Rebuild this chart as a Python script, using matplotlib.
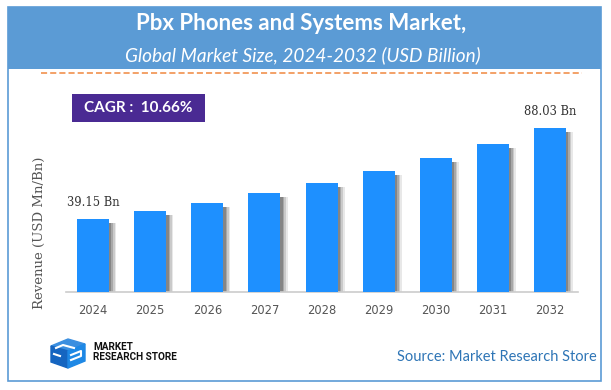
import matplotlib.pyplot as plt
from matplotlib.patches import Rectangle, Polygon
import numpy as np

years = ["2024", "2025", "2026", "2027", "2028", "2029", "2030", "2031", "2032"]
revenue = [39.15, 43.3, 47.9, 53.0, 58.7, 65.0, 71.9, 79.6, 88.03]
bar_labels = {0: "39.15 Bn", 8: "88.03 Bn"}
cagr_text = "CAGR :  10.66%"
title = "Pbx Phones and Systems Market,"
subtitle = "Global Market Size, 2024-2032 (USD Billion)"
source = "Source: Market Research Store"

W, H = 611, 390
fig = plt.figure(figsize=(W / 100, H / 100), dpi=100)


def fx(x):
    return x / W


def fy(y):
    return 1 - y / H


def frect(x0, y0, x1, y1, **kw):
    r = Rectangle((fx(x0), fy(y1)), fx(x1) - fx(x0), fy(y0) - fy(y1),
                  transform=fig.transFigure, zorder=-5, **kw)
    fig.patches.append(r)


# outer frame + header
frect(8, 7, 601, 381, facecolor="white", edgecolor="#5B9BD5", linewidth=1.2)
frect(8, 7, 601, 69, facecolor="#5B9BD5", edgecolor="none")
fig.lines.append(plt.Line2D([fx(41), fx(582)], [fy(72.5), fy(72.5)],
                            transform=fig.transFigure, color="#F0883E",
                            linewidth=1.1, linestyle=(0, (4, 2))))

fig.text(fx(301), fy(24), title, ha="center", va="center", color="white",
         fontsize=16, fontweight="bold", family="Lato")
fig.text(fx(303), fy(55), subtitle, ha="center", va="center", color="white",
         fontsize=13.7, style="italic", family="Lato")

# CAGR box
frect(72, 94, 205, 122, facecolor="#4A2A93", edgecolor="none")
fig.text(fx(138.5), fy(108), cagr_text, ha="center", va="center",
         color="white", fontsize=11, fontweight="bold", family="Lato")

# bar chart
ax = fig.add_axes([fx(65.7), fy(292), fx(578) - fx(65.7), (100 * 1.863) / H])
x = np.arange(len(years))
bw = 0.56
# soft shadow on the right
for i, a in enumerate([0.12, 0.18, 0.25, 0.35]):
    off = 0.04 + 0.028 * (3 - i)
    ax.bar(x + off, np.array(revenue) - 2.2, bottom=0, width=bw,
           color="#444444", alpha=a, zorder=1, linewidth=0)
ax.bar(x, revenue, width=bw, color="#1E90FF", zorder=3, linewidth=0)

for i, lab in bar_labels.items():
    ax.annotate(lab, (x[i], revenue[i]), xytext=(0, 12),
                textcoords="offset points", ha="center", va="center",
                family="DejaVu Serif", fontsize=8.3, color="#333333")

ax.set_xlim(-0.48, 8.49)
ax.set_ylim(0, 100)
ax.set_xticks(x)
ax.set_xticklabels(years, family="DejaVu Sans", fontsize=8.3, color="#555555")
ax.tick_params(axis="x", length=0, pad=9)
ax.set_yticks([])
for s in ["top", "right", "left"]:
    ax.spines[s].set_visible(False)
ax.spines["bottom"].set_color("#CCCCCC")
ax.spines["bottom"].set_linewidth(1.2)
ax.patch.set_alpha(0)

fig.text(fx(39), fy(233), "Revenue (USD Mn/Bn)", rotation=90, ha="center",
         va="center", family="DejaVu Serif", fontsize=9.5, color="#555555")

# logo
lax = fig.add_axes([fx(48), fy(370), fx(88) - fx(48), (370 - 335) / H])
lax.set_xlim(0, 40)
lax.set_ylim(0, 35)
lax.axis("off")
lax.add_patch(Polygon([(3, 24), (20, 31), (37, 26), (20, 19)],
                      color="#3B8FE0"))
lax.add_patch(Polygon([(3, 24), (20, 19), (20, 2), (3, 8)],
                      color="#1565C0"))
lax.add_patch(Polygon([(20, 19), (37, 26), (37, 9), (20, 2)],
                      color="#1E88E5"))
lax.plot([8, 15, 26], [22, 25, 22], color="white", lw=1.5)
lax.plot([6, 12], [16, 14], color="white", lw=1.5)
lax.plot([23, 33, 33, 23], [15, 19, 14, 10], color="white", lw=1.5)

fig.text(fx(93), fy(347), "MARKET", ha="left", va="center",
         fontsize=7.2, fontweight="bold", family="Roboto", color="#111111")
fig.text(fx(93), fy(356.5), "RESEARCH STORE", ha="left", va="center",
         fontsize=7.2, fontweight="bold", family="Roboto", color="#111111")

fig.text(fx(597), fy(357), source, ha="right", va="center",
         fontsize=10.5, family="Lato", color="#2E75B6")

fig.savefig("out.png", dpi=100)
